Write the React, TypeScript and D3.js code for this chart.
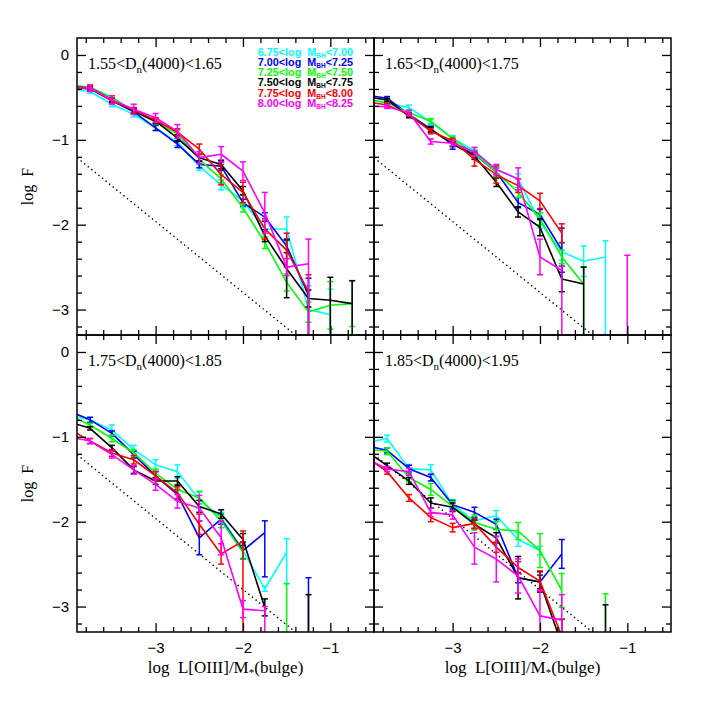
import React, { useEffect, useRef } from "react";
import * as d3 from "d3";

// bin centres of log L[OIII]/M*(bulge)
const binX = [-4.0, -3.75, -3.5, -3.25, -3.0, -2.75, -2.5, -2.25, -2.0, -1.75, -1.5, -1.25, -1.0, -0.75];

const seriesColors = ["#00ffff", "#0000ff", "#00ff00", "#000000", "#ff0000", "#ff00ff"];
const massLo = ["6.75", "7.00", "7.25", "7.50", "7.75", "8.00"];
const massHi = ["7.00", "7.25", "7.50", "7.75", "8.00", "8.25"];
const dnLo = ["1.55", "1.65", "1.75", "1.85"];
const dnHi = ["1.65", "1.75", "1.85", "1.95"];

// dotted reference line (same in every panel)
const refLineX = [-3.9, -1.4];
const refLineY = [-1.21, -3.3];

type Err = number | [number, number] | null;
const _ = null;

// panel 1: 1.55<Dn(4000)<1.65   (rows: cyan, blue, green, black, red, magenta)
const p1Val: (number | null)[][] = [
  [-0.40, -0.43, -0.58, -0.70, -0.86, -1.03, -1.31, -1.53, -1.72, -2.05, -2.05, -3.00, -3.06, _],
  [-0.38, -0.40, -0.54, -0.67, -0.86, -1.05, -1.29, -1.31, -1.74, -1.91, -2.25, -2.83, _, _],
  [-0.35, -0.38, -0.50, -0.66, -0.79, -0.93, -1.23, -1.46, -1.80, -2.21, -2.68, -3.03, -2.95, -2.93],
  [-0.37, -0.39, -0.53, -0.66, -0.78, -0.98, -1.21, -1.29, -1.60, -2.13, -2.52, -2.87, -2.89, -2.93],
  [-0.37, -0.39, -0.54, -0.65, -0.77, -0.91, -1.11, -1.41, -1.62, -2.05, -2.30, -2.79, _, _],
  [-0.39, -0.39, -0.53, -0.64, -0.74, -0.90, -1.21, -1.17, -1.37, -1.86, -2.50, -2.46, _, _],
];
const p1Err: Err[][] = [
  [_, 0.02, 0.03, 0.03, 0.03, 0.04, 0.05, 0.06, 0.08, 0.1, 0.14, [0.28, 9], [0.3, 9], _],
  [_, 0.02, 0.02, 0.03, 0.03, 0.04, 0.04, 0.05, 0.04, 0.05, 0.08, [0.2, 9], _, _],
  [_, 0.02, 0.02, 0.03, 0.03, 0.04, 0.05, 0.05, 0.05, 0.07, 0.1, 0.12, 0.28, 0.27],
  [_, 0.02, 0.02, 0.03, 0.03, 0.04, 0.04, 0.05, 0.05, 0.07, 0.34, 0.1, [0.27, 9], [0.27, 9]],
  [_, 0.02, 0.03, 0.03, 0.03, 0.04, 0.06, 0.12, 0.12, 0.12, 0.2, [0.2, 9], _, _],
  [_, 0.04, 0.05, 0.06, 0.05, 0.08, 0.07, 0.09, 0.11, 0.24, 0.1, [0.29, 9], _, _],
];

// panel 2: 1.65<Dn(4000)<1.75
const p2Val: (number | null)[][] = [
  [-0.52, -0.57, -0.62, -0.79, -0.98, -1.13, -1.35, -1.46, -1.97, -2.32, -2.43, -2.38, _, _],
  [-0.47, -0.51, -0.70, -0.87, -1.05, -1.17, -1.38, -1.74, -1.88, -2.30, _, _, _, _],
  [-0.52, -0.56, -0.68, -0.78, -0.99, -1.16, -1.38, -1.62, -1.93, -2.38, -2.70, _, _, _],
  [-0.49, -0.53, -0.72, -0.88, -1.05, -1.19, -1.50, -1.85, -2.03, -2.64, -2.70, _, _, _],
  [-0.55, -0.59, -0.70, -0.90, -1.01, -1.23, -1.41, -1.54, -1.72, -2.10, _, _, _, _],
  [-0.60, -0.61, -0.68, -1.02, -1.04, -1.14, -1.35, -1.46, -2.38, -2.54, _, _, -2.90, _],
];
const p2Err: Err[][] = [
  [_, 0.02, 0.03, 0.03, 0.03, 0.04, 0.05, 0.06, 0.07, 0.1, 0.18, [0.19, 9], _, _],
  [_, 0.02, 0.02, 0.03, 0.06, 0.04, 0.05, 0.06, 0.06, 0.26, _, _, _, _],
  [_, 0.02, 0.02, 0.03, 0.03, 0.04, 0.05, 0.06, 0.07, 0.08, [0.2, 9], _, _, _],
  [_, 0.02, 0.02, 0.03, 0.03, 0.04, 0.05, 0.06, 0.1, 0.15, [0.2, 9], _, _, _],
  [_, 0.02, 0.02, 0.03, 0.03, 0.08, 0.1, 0.08, 0.09, 0.11, _, _, _, _],
  [_, 0.02, 0.03, 0.03, 0.03, 0.05, 0.06, 0.13, 0.21, [0.05, 9], _, _, [0.54, 9], _],
];

// panel 3: 1.75<Dn(4000)<1.85
const p3Val: (number | null)[][] = [
  [-0.74, -0.80, -0.92, -1.15, -1.33, -1.41, -1.74, -1.95, -2.34, -2.79, -2.36, _, _, _],
  [-0.69, -0.80, -0.96, -1.21, -1.46, -1.68, -2.19, -1.97, -2.34, -2.13, _, -2.85, _, _],
  [-0.74, -0.86, -1.02, -1.19, -1.43, -1.62, -1.72, -1.99, -2.36, _, -3.0, _, _, _],
  [-0.82, -0.90, -1.13, -1.39, -1.52, -1.52, -1.82, -1.91, -2.21, -3.01, _, -3.2, _, _],
  [-0.90, -1.05, -1.19, -1.27, -1.46, -1.66, -2.03, -2.38, -2.23, _, _, _, _, _],
  [-1.00, -1.05, -1.21, -1.39, -1.56, -1.76, -1.84, -2.19, -3.03, -3.05, _, _, _, _],
];
const p3Err: Err[][] = [
  [_, 0.03, 0.06, 0.05, 0.06, 0.08, 0.1, 0.06, 0.09, 0.03, [0.16, 0.37], _, _, _],
  [_, 0.03, 0.03, 0.04, 0.05, 0.06, 0.2, 0.06, 0.1, [0.14, 0.52], _, [0.19, 9], _, _],
  [_, 0.02, 0.04, 0.04, 0.05, 0.06, 0.07, 0.08, 0.08, _, [0.27, 9], _, _, _],
  [_, 0.02, 0.03, 0.04, 0.04, 0.05, 0.07, 0.05, 0.07, 0.1, _, [0.34, 9], _, _],
  [_, 0.03, 0.04, 0.05, 0.05, 0.07, 0.12, 0.12, [0.12, 9], _, _, _, _, _],
  [_, 0.03, 0.04, 0.05, 0.07, 0.08, 0.15, 0.2, 0.1, [0.05, 9], _, _, _, _],
];

// panel 4: 1.85<Dn(4000)<1.95
const p4Val: (number | null)[][] = [
  [-1.07, -1.02, -1.375, -1.39, -1.80, -1.99, -1.93, -2.21, -2.34, _, _, _, _, _],
  [-1.10, -1.16, -1.375, -1.48, -1.80, -1.89, -2.03, -2.66, -2.71, -2.38, _, _, _, _],
  [-1.14, -1.17, -1.48, -1.62, -1.82, -2.01, -2.09, -2.11, -2.34, -2.81, _, -3.0, _, _],
  [-1.16, -1.34, -1.52, -1.78, -1.83, -2.03, -2.19, -2.66, -2.71, -3.45, _, -3.2, _, _],
  [-1.23, -1.41, -1.72, -1.95, -2.07, -2.02, -2.30, -2.54, -2.70, -3.35, _, _, _, _],
  [-1.25, -1.38, -1.41, -1.89, -1.92, -2.30, -2.44, -2.64, -3.11, -3.16, _, _, _, _],
];
const p4Err: Err[][] = [
  [_, 0.04, 0.05, 0.06, 0.06, 0.05, 0.06, 0.08, 0.05, _, _, _, _, _],
  [_, 0.03, 0.04, 0.04, 0.05, 0.06, 0.06, 0.06, 0.08, 0.17, _, _, _, _],
  [_, 0.04, 0.05, 0.07, 0.06, 0.09, 0.09, 0.1, 0.2, 0.2, _, [0.15, 9], _, _],
  [_, 0.03, 0.04, 0.06, 0.05, 0.05, 0.06, 0.25, 0.12, 0.3, _, [0.22, 9], _, _],
  [_, 0.03, 0.04, 0.05, 0.05, 0.06, 0.06, 0.07, 0.12, 0.2, _, _, _, _],
  [_, 0.03, 0.04, 0.05, 0.05, [0.17, 0.2], 0.27, 0.2, [0.3, 9], [0.3, 9], _, _, _, _],
];

const panelVals = [p1Val, p2Val, p3Val, p4Val];
const panelErrs = [p1Err, p2Err, p3Err, p4Err];

const App = () => {
  const svgRef = useRef<SVGSVGElement>(null);

  useEffect(() => {
    const W = 297;
    const H = 297;
    const origins = [
      [77, 38],
      [374, 38],
      [77, 335],
      [374, 335],
    ];
    const x = d3.scaleLinear([-3.9, -0.5], [0, W]);
    const y = d3.scaleLinear([-3.3, 0.2], [H, 0]);
    const xMinor = d3.range(-3.8, -0.55, 0.2).filter((v) => Math.abs(v - Math.round(v)) > 0.01);
    const yMinor = d3.range(-3.2, 0.15, 0.2).filter((v) => Math.abs(v - Math.round(v)) > 0.01);
    const xMajor = [-3, -2, -1];
    const yMajor = [-3, -2, -1, 0];

    const svg = d3.select(svgRef.current);
    svg.selectAll("*").remove();
    svg
      .append("defs")
      .append("clipPath")
      .attr("id", "plotclip")
      .append("rect")
      .attr("width", W)
      .attr("height", H);

    const sans = "'Liberation Sans', Arial, sans-serif";
    const serif = "'Liberation Serif', 'DejaVu Serif', serif";

    panelVals.forEach((vals, pi) => {
      const [ox, oy] = origins[pi];
      const isLeft = pi % 2 === 0;
      const isBottom = pi >= 2;
      const g = svg.append("g").attr("transform", `translate(${ox},${oy})`);
      const plot = g.append("g").attr("clip-path", "url(#plotclip)");

      // dotted reference line
      plot
        .append("path")
        .attr("d", d3.line()(refLineX.map((v, i) => [x(v), y(refLineY[i])]) as [number, number][]))
        .attr("fill", "none")
        .attr("stroke", "#000")
        .attr("stroke-width", 1.4)
        .attr("stroke-dasharray", "1.4 3.2");

      vals.forEach((ser, si) => {
        const color = seriesColors[si];
        const pts = ser.map((v, i) => ({ x: binX[i], y: v, e: panelErrs[pi][si][i] }));
        const line = d3
          .line<any>()
          .defined((d) => d.y != null)
          .x((d) => x(d.x))
          .y((d) => y(d.y));
        plot
          .append("path")
          .attr("d", line(pts))
          .attr("fill", "none")
          .attr("stroke", color)
          .attr("stroke-width", 1.6)
          .attr("stroke-linejoin", "round");

        // error bars
        pts
          .filter((d) => d.y != null && d.e != null)
          .forEach((d) => {
            const [up, dn] = Array.isArray(d.e) ? d.e : [d.e as number, d.e as number];
            const cx = x(d.x);
            const y1 = y((d.y as number) + up);
            const y2 = y((d.y as number) - dn);
            const eb = plot.append("g").attr("stroke", color).attr("stroke-width", 1.5);
            eb.append("line").attr("x1", cx).attr("x2", cx).attr("y1", y1).attr("y2", y2);
            eb.append("line").attr("x1", cx - 3).attr("x2", cx + 3).attr("y1", y1).attr("y2", y1);
            eb.append("line").attr("x1", cx - 3).attr("x2", cx + 3).attr("y1", y2).attr("y2", y2);
          });
      });

      // axes: inward ticks on all four sides
      const styleAxis = (sel: any) => {
        sel.select(".domain").remove();
        sel.selectAll(".tick line").attr("stroke", "#000").attr("stroke-width", 1.3);
        sel.selectAll(".tick text").attr("font-family", sans).attr("font-size", 15).attr("fill", "#000");
      };
      g.append("g")
        .attr("transform", `translate(0,${H})`)
        .call(d3.axisBottom(x).tickValues(xMinor).tickSize(-5).tickFormat(() => ""))
        .call(styleAxis);
      g.append("g")
        .attr("transform", `translate(0,${H})`)
        .call(
          d3
            .axisBottom(x)
            .tickValues(xMajor)
            .tickSize(-9)
            .tickPadding(10)
            .tickFormat((d) => (isBottom ? d3.format("d")(d as number) : ""))
        )
        .call(styleAxis);
      g.append("g").call(d3.axisTop(x).tickValues(xMinor).tickSize(-5).tickFormat(() => "")).call(styleAxis);
      g.append("g").call(d3.axisTop(x).tickValues(xMajor).tickSize(-9).tickFormat(() => "")).call(styleAxis);
      g.append("g").call(d3.axisLeft(y).tickValues(yMinor).tickSize(-5).tickFormat(() => "")).call(styleAxis);
      g.append("g")
        .call(
          d3
            .axisLeft(y)
            .tickValues(yMajor)
            .tickSize(-9)
            .tickPadding(8)
            .tickFormat((d) => (isLeft ? d3.format("d")(d as number) : ""))
        )
        .call(styleAxis);
      g.append("g")
        .attr("transform", `translate(${W},0)`)
        .call(d3.axisRight(y).tickValues(yMinor).tickSize(-5).tickFormat(() => ""))
        .call(styleAxis);
      g.append("g")
        .attr("transform", `translate(${W},0)`)
        .call(d3.axisRight(y).tickValues(yMajor).tickSize(-9).tickFormat(() => ""))
        .call(styleAxis);

      // frame
      g.append("rect")
        .attr("width", W)
        .attr("height", H)
        .attr("fill", "none")
        .attr("stroke", "#000")
        .attr("stroke-width", 1.5);

      // panel label
      const lab = g
        .append("text")
        .attr("x", 11)
        .attr("y", 31)
        .attr("font-family", serif)
        .attr("font-size", 16)
        .attr("fill", "#000");
      lab.append("tspan").text(`${dnLo[pi]}<D`);
      lab.append("tspan").attr("font-size", 11).attr("dy", 4).text("n");
      lab.append("tspan").attr("dy", -4).text(`(4000)<${dnHi[pi]}`);

      if (isBottom) {
        const xt = g
          .append("text")
          .attr("x", W / 2)
          .attr("y", H + 41)
          .attr("text-anchor", "middle")
          .attr("font-family", serif)
          .attr("font-size", 17)
          .attr("fill", "#000")
          .style("white-space", "pre");
        xt.append("tspan").text("log  L[OIII]/M");
        xt.append("tspan").attr("font-size", 11).attr("dy", 3).text("*");
        xt.append("tspan").attr("dy", -3).text("(bulge)");
      }
      if (isLeft) {
        g.append("text")
          .attr("transform", `translate(${33 - ox},${H / 2}) rotate(-90)`)
          .attr("text-anchor", "middle")
          .attr("font-family", serif)
          .attr("font-size", 16)
          .attr("fill", "#000")
          .style("white-space", "pre")
          .text("log  F");
      }

      // legend in the first panel
      if (pi === 0) {
        massLo.forEach((lo, i) => {
          const t = g
            .append("text")
            .attr("x", 276)
            .attr("y", 17.5 + i * 10.3)
            .attr("text-anchor", "end")
            .attr("font-family", sans)
            .attr("font-weight", "bold")
            .attr("font-size", 10.8)
            .attr("fill", seriesColors[i])
            .style("white-space", "pre");
          t.append("tspan").text(`${lo}<log  M`);
          t.append("tspan").attr("font-size", 6.5).attr("dy", 2).text("BH");
          t.append("tspan").attr("dy", -2).text(`<${massHi[i]}`);
        });
      }
    });
  }, []);

  return (
    <div style={{ position: "absolute", left: 0, top: 0 }}>
      <svg ref={svgRef} width={708} height={708} style={{ display: "block", background: "#fff" }} />
    </div>
  );
};

export default App;
